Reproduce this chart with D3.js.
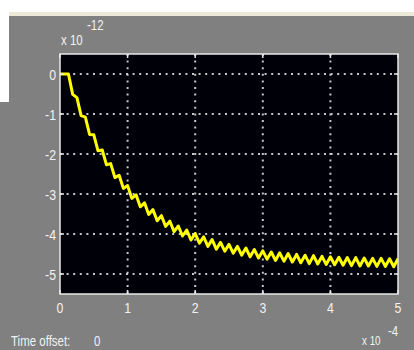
<!DOCTYPE html>
<html>
<head>
<meta charset="utf-8">
<script src="https://cdn.jsdelivr.net/npm/d3@7"></script>
<style>
  html, body { margin: 0; padding: 0; background: #fff; }
  svg { display: block; }
  text { font-family: "Liberation Sans", Arial, sans-serif; }
</style>
</head>
<body>
<svg id="scope" width="414" height="350"></svg>
<script>
// sample times (x 1e-4 s) and scope output (x 1e-12)
const timeVals = [0, 0.0625, 0.125, 0.1875, 0.25, 0.3125, 0.375, 0.4375, 0.5, 0.5625,
  0.625, 0.6875, 0.75, 0.8125, 0.875, 0.9375, 1, 1.0625, 1.125, 1.1875,
  1.25, 1.3125, 1.375, 1.4375, 1.5, 1.5625, 1.625, 1.6875, 1.75, 1.8125,
  1.875, 1.9375, 2, 2.0625, 2.125, 2.1875, 2.25, 2.3125, 2.375, 2.4375,
  2.5, 2.5625, 2.625, 2.6875, 2.75, 2.8125, 2.875, 2.9375, 3, 3.0625,
  3.125, 3.1875, 3.25, 3.3125, 3.375, 3.4375, 3.5, 3.5625, 3.625, 3.6875,
  3.75, 3.8125, 3.875, 3.9375, 4, 4.0625, 4.125, 4.1875, 4.25, 4.3125,
  4.375, 4.4375, 4.5, 4.5625, 4.625, 4.6875, 4.75, 4.8125, 4.875, 4.9375, 5];
const signalVals = [0, 0, 0, -0.51, -0.59, -1.04, -1.08, -1.51, -1.52, -1.92,
  -1.90, -2.27, -2.24, -2.59, -2.53, -2.86, -2.79, -3.11, -3.02, -3.32,
  -3.22, -3.51, -3.39, -3.67, -3.54, -3.81, -3.68, -3.94, -3.80, -4.05,
  -3.90, -4.15, -3.99, -4.23, -4.07, -4.31, -4.14, -4.38, -4.21, -4.43,
  -4.26, -4.48, -4.31, -4.53, -4.35, -4.57, -4.39, -4.60, -4.42, -4.63,
  -4.45, -4.66, -4.47, -4.68, -4.49, -4.70, -4.51, -4.72, -4.53, -4.74,
  -4.54, -4.75, -4.56, -4.76, -4.57, -4.77, -4.58, -4.78, -4.59, -4.79,
  -4.59, -4.80, -4.60, -4.80, -4.61, -4.81, -4.61, -4.81, -4.62, -4.82, -4.62];
const xTicks = [0, 1, 2, 3, 4, 5];
const yTicks = [0, -1, -2, -3, -4, -5];
const xTickLabels = ["0", "1", "2", "3", "4", "5"];
const yTickLabels = ["0", "-1", "-2", "-3", "-4", "-5"];

const svg = d3.select("#scope");
const plot = {left: 60, top: 54, right: 398, bottom: 294};

// window chrome
svg.append("rect").attr("x", 0).attr("y", 12).attr("width", 414).attr("height", 4).attr("fill", "#ece9d8");
svg.append("rect").attr("x", 0).attr("y", 16).attr("width", 414).attr("height", 334).attr("fill", "#808080");
svg.append("rect").attr("x", 0).attr("y", 12).attr("width", 9).attr("height", 90).attr("fill", "#ffffff");

const x = d3.scaleLinear().domain([0, 5]).range([plot.left, plot.right]);
const y = d3.scaleLinear().domain([0.5, -5.5]).range([plot.top, plot.bottom]);

// axes background
svg.append("rect")
  .attr("x", plot.left).attr("y", plot.top)
  .attr("width", plot.right - plot.left).attr("height", plot.bottom - plot.top)
  .attr("fill", "#000008");

svg.append("clipPath").attr("id", "clip").append("rect")
  .attr("x", plot.left).attr("y", plot.top)
  .attr("width", plot.right - plot.left).attr("height", plot.bottom - plot.top);

// dotted grid
const grid = svg.append("g").attr("stroke", "#c8c8c8").attr("stroke-width", 2).attr("stroke-dasharray", "2,4.6");
grid.selectAll("line.gx").data(xTicks.slice(1, -1)).enter().append("line")
  .attr("x1", d => x(d)).attr("x2", d => x(d))
  .attr("y1", plot.top).attr("y2", plot.bottom);
grid.selectAll("line.gy").data(yTicks).enter().append("line")
  .attr("y1", d => y(d)).attr("y2", d => y(d))
  .attr("x1", plot.left).attr("x2", plot.right);

// signal
const line = d3.line().x(d => x(d[0])).y(d => y(d[1]));
svg.append("path")
  .datum(d3.zip(timeVals, signalVals))
  .attr("clip-path", "url(#clip)")
  .attr("d", line)
  .attr("fill", "none")
  .attr("stroke", "#ffff00")
  .attr("stroke-width", 3)
  .attr("stroke-linejoin", "round");

// frame and inward ticks
svg.append("rect")
  .attr("x", plot.left).attr("y", plot.top)
  .attr("width", plot.right - plot.left).attr("height", plot.bottom - plot.top)
  .attr("fill", "none").attr("stroke", "#e8e8e8").attr("stroke-width", 1.5);
const ticks = svg.append("g").attr("stroke", "#e8e8e8").attr("stroke-width", 1.5);
xTicks.forEach(t => {
  ticks.append("line").attr("x1", x(t)).attr("x2", x(t)).attr("y1", plot.bottom).attr("y2", plot.bottom - 4);
  ticks.append("line").attr("x1", x(t)).attr("x2", x(t)).attr("y1", plot.top).attr("y2", plot.top + 4);
});
yTicks.forEach(t => {
  ticks.append("line").attr("y1", y(t)).attr("y2", y(t)).attr("x1", plot.left).attr("x2", plot.left + 4);
  ticks.append("line").attr("y1", y(t)).attr("y2", y(t)).attr("x1", plot.right).attr("x2", plot.right - 4);
});

// narrow text helper
function label(px, py, str, anchor, size) {
  svg.append("g").attr("transform", "translate(" + px + "," + py + ") scale(0.82,1)")
    .append("text")
    .attr("text-anchor", anchor)
    .attr("font-size", size)
    .attr("fill", "#f2f2f2")
    .text(str);
}

xTicks.forEach((t, i) => label(x(t), 313, xTickLabels[i], "middle", 15));
yTicks.forEach((t, i) => label(56, y(t) + 5.5, yTickLabels[i], "end", 15));

// exponent labels
label(61, 45, "x 10", "start", 14);
label(87, 30, "-12", "start", 14);
label(362, 345, "x 10", "start", 12);
label(388, 336, "-4", "start", 14);
label(11, 346, "Time offset:", "start", 14);
label(94, 346, "0", "start", 14);
</script>
</body>
</html>
